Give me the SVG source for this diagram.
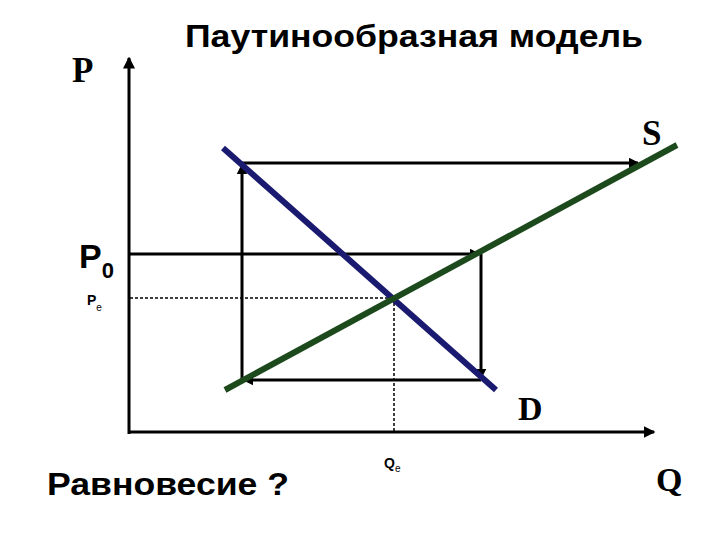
<svg xmlns="http://www.w3.org/2000/svg" width="720" height="540" viewBox="0 0 720 540">
<defs>
<style>
.ax{stroke:#000;stroke-width:3;fill:none}
.path{stroke:#000;stroke-width:3;fill:none;marker-end:url(#ah)}
.dash{stroke:#000;stroke-width:1.5;fill:none;stroke-dasharray:3,2}
.serif{font-family:"Liberation Serif","Times New Roman",serif;font-weight:bold;fill:#000}
.sans{font-family:"Liberation Sans",Arial,sans-serif;font-weight:bold;fill:#000}
</style>
<marker id="ah" markerWidth="3.5" markerHeight="3.5" refX="3" refY="1.75" orient="auto" markerUnits="strokeWidth">
<path d="M0,0 L3.5,1.75 L0,3.5 Z" fill="#000"/>
</marker>
<marker id="axh" markerWidth="4" markerHeight="4" refX="3.5" refY="2" orient="auto" markerUnits="strokeWidth">
<path d="M0,0 L4,2 L0,4 Z" fill="#000"/>
</marker>
</defs>
<rect width="720" height="540" fill="#fff"/>
<g id="axes">
<line class="ax" x1="129" y1="434" x2="129" y2="58" marker-end="url(#axh)"/>
<line class="ax" x1="128" y1="432" x2="654" y2="432" marker-end="url(#axh)"/>
</g>
<g id="connectors">
<line class="path" x1="129" y1="254" x2="479" y2="254"/>
<line class="path" x1="481" y1="254" x2="481" y2="378"/>
<line class="path" x1="481" y1="380" x2="244" y2="380"/>
<line class="path" x1="242" y1="380" x2="242" y2="165"/>
<line class="path" x1="242" y1="163" x2="638" y2="163"/>
<line class="dash" x1="130" y1="298" x2="394" y2="298"/>
<line class="dash" x1="394" y1="298" x2="394" y2="432"/>
</g>
<g id="demand">
<line x1="223" y1="148" x2="496" y2="390" stroke="#1a1a70" stroke-width="6"/>
</g>
<g id="supply">
<line x1="225" y1="390" x2="677" y2="145" stroke="#1d4a1d" stroke-width="6"/>
</g>
<g id="labels">
<text class="sans" x="185" y="47" font-size="31" textLength="458" lengthAdjust="spacingAndGlyphs">Паутинообразная модель</text>
<text class="serif" x="72" y="82" font-size="35">P</text>
<text class="serif" x="642" y="145" font-size="35">S</text>
<text class="serif" x="518" y="420" font-size="34">D</text>
<text class="serif" x="656" y="491" font-size="34">Q</text>
<text class="sans" x="79" y="268" font-size="34" font-weight="normal">P<tspan font-size="22" dy="10">0</tspan></text>
<text class="sans" x="87" y="305" font-size="14">P<tspan font-size="10" dy="6" font-weight="normal">e</tspan></text>
<text class="sans" x="384" y="468" font-size="14">Q<tspan font-size="10" dy="4" font-weight="normal">e</tspan></text>
<text class="sans" x="47" y="495" font-size="31" textLength="242" lengthAdjust="spacingAndGlyphs">Равновесие ?</text>
</g>
</svg>
